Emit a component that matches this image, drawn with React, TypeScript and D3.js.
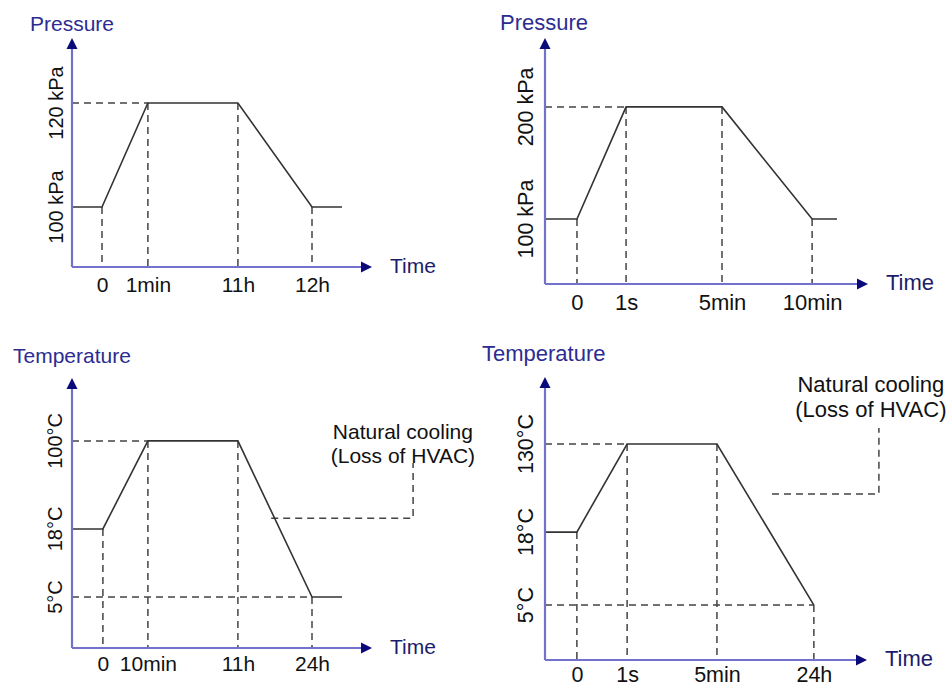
import React, { useEffect, useRef } from 'react';
import * as d3 from 'd3';

// all positions below are in "percent of axis length" (schematic chart, not to scale)

// panel A: pressure, slow cycle
const pressATicks = ['0', '1min', '11h', '12h'];
const pressATickPos = [10, 25.3, 55.3, 80];
const pressALevels = ['100 kPa', '120 kPa'];
const pressALevelPos = [26.2, 71.6];
const pressAProfile = [0, 1, 1, 0]; // level index reached at each tick
const pressAEnd = 90;

// panel B: pressure, fast cycle
const pressBTicks = ['0', '1s', '5min', '10min'];
const pressBTickPos = [9.9, 25.1, 54.8, 82.7];
const pressBLevels = ['100 kPa', '200 kPa'];
const pressBLevelPos = [26.4, 72];
const pressBProfile = [0, 1, 1, 0];
const pressBEnd = 90.4;

// panel C: temperature, slow cycle
const tempCTicks = ['0', '10min', '11h', '24h'];
const tempCTickPos = [10.3, 25.3, 55.3, 80];
const tempCLevels = ['5°C', '18°C', '100°C'];
const tempCLevelPos = [18.9, 44.1, 76.7];
const tempCProfile = [1, 2, 2, 0];
const tempCEnd = 90;
const tempCNote = ['Natural cooling', '(Loss of HVAC)'];
const tempCNotePos = [110.3, 77.4];
const tempCLeader = [[66.4, 48.1], [113.7, 48.1], [113.7, 68.5]];

// panel D: temperature, fast cycle
const tempDTicks = ['0', '1s', '5min', '24h'];
const tempDTickPos = [9.9, 25.5, 53.4, 83.5];
const tempDLevels = ['5°C', '18°C', '130°C'];
const tempDLevelPos = [19.4, 45.2, 76.3];
const tempDProfile = [1, 2, 2, 0];
const tempDEnd = null;
const tempDNote = ['Natural cooling', '(Loss of HVAC)'];
const tempDNotePos = [101.2, 94.7];
const tempDLeader = [[70.5, 58.7], [103.7, 58.7], [103.7, 82]];

const panels = [
  { title: 'Pressure', ticks: pressATicks, tickPos: pressATickPos, levels: pressALevels, levelPos: pressALevelPos, profile: pressAProfile, end: pressAEnd,
    ox: 72, oy: 267, w: 300, h: 229, tx: 30, ty: 31, fs: 20, xfs: 21, tfs: 21, lab: 9, pad: 10 },
  { title: 'Pressure', ticks: pressBTicks, tickPos: pressBTickPos, levels: pressBLevels, levelPos: pressBLevelPos, profile: pressBProfile, end: pressBEnd,
    ox: 545, oy: 284, w: 323, h: 246, tx: 500, ty: 30, fs: 21.5, xfs: 22, tfs: 22, lab: 12, pad: 10 },
  { title: 'Temperature', ticks: tempCTicks, tickPos: tempCTickPos, levels: tempCLevels, levelPos: tempCLevelPos, profile: tempCProfile, end: tempCEnd,
    note: tempCNote, notePos: tempCNotePos, leader: tempCLeader,
    ox: 72, oy: 648, w: 300, h: 270, tx: 13, ty: 363, fs: 20, xfs: 21, tfs: 21, lab: 10, pad: 8 },
  { title: 'Temperature', ticks: tempDTicks, tickPos: tempDTickPos, levels: tempDLevels, levelPos: tempDLevelPos, profile: tempDProfile, end: tempDEnd,
    note: tempDNote, notePos: tempDNotePos, leader: tempDLeader,
    ox: 545, oy: 660, w: 322, h: 283, tx: 482, ty: 361, fs: 21.5, xfs: 21.5, tfs: 22, lab: 12, pad: 7 },
];

const W = 952;
const H = 688;
const FONT = 'Liberation Sans, Arial, sans-serif';

export default function App() {
  const svgRef = useRef<SVGSVGElement>(null);

  useEffect(() => {
    const svg = d3.select(svgRef.current)
    svg.selectAll('*').remove()
    svg.append('rect').attr('width', W).attr('height', H).attr('fill', 'white')

    panels.forEach(p => {
      const g = svg.append('g').style('font-family', FONT)
      const x = d3.scaleLinear().domain([0, 100]).range([p.ox, p.ox + p.w])
      const y = d3.scaleLinear().domain([0, 100]).range([p.oy, p.oy - p.h])

      // profile points
      const pts: [number, number][] = []
      pts.push([0, p.levelPos[p.profile[0]]])
      p.tickPos.forEach((t, i) => pts.push([t, p.levelPos[p.profile[i]]]))
      if (p.end != null) pts.push([p.end, p.levelPos[p.profile[p.profile.length - 1]]])

      const dash = g.append('g')
        .attr('stroke', '#444')
        .attr('stroke-width', 1.5)
        .attr('stroke-dasharray', '7,5')
        .attr('fill', 'none')

      // horizontal guides for levels not at the start
      p.levelPos.forEach((lv, li) => {
        if (li === p.profile[0]) return
        const first = p.profile.indexOf(li)
        dash.append('line')
          .attr('x1', x(0)).attr('x2', x(p.tickPos[first]))
          .attr('y1', y(lv)).attr('y2', y(lv))
      })
      // vertical guides
      p.tickPos.forEach((t, i) => {
        dash.append('line')
          .attr('x1', x(t)).attr('x2', x(t))
          .attr('y1', y(p.levelPos[p.profile[i]])).attr('y2', y(0))
      })
      // leader to note
      if (p.leader) {
        dash.append('path')
          .attr('d', d3.line()(p.leader.map(d => [x(d[0]), y(d[1])] as [number, number])))
      }

      // the profile
      g.append('path')
        .attr('d', d3.line().x(d => x(d[0])).y(d => y(d[1]))(pts))
        .attr('fill', 'none')
        .attr('stroke', '#333')
        .attr('stroke-width', 1.6)

      // axes with arrows
      g.append('line')
        .attr('x1', x(0)).attr('x2', x(100) - 8)
        .attr('y1', y(0)).attr('y2', y(0))
        .attr('stroke', '#7272cc').attr('stroke-width', 2.2)
      g.append('line')
        .attr('x1', x(0)).attr('x2', x(0))
        .attr('y1', y(0)).attr('y2', y(100) + 8)
        .attr('stroke', '#7272cc').attr('stroke-width', 2.2)
      g.append('path')
        .attr('d', `M${x(100)},${y(0)} L${x(100) - 11},${y(0) - 5.5} L${x(100) - 11},${y(0) + 5.5} Z`)
        .attr('fill', '#0a0a7a')
      g.append('path')
        .attr('d', `M${x(0)},${y(100)} L${x(0) - 5.5},${y(100) + 11} L${x(0) + 5.5},${y(100) + 11} Z`)
        .attr('fill', '#0a0a7a')

      // time tick labels
      const xAxis = d3.axisBottom(x)
        .tickValues(p.tickPos)
        .tickFormat((d, i) => p.ticks[i])
        .tickSize(0)
        .tickPadding(p.pad)
      const ax = g.append('g')
        .attr('transform', `translate(0, ${y(0)})`)
        .call(xAxis)
      ax.select('.domain').remove()
      ax.selectAll('text')
        .attr('fill', '#111')
        .style('font-size', `${p.xfs}px`)
        .style('font-family', FONT)

      // rotated level labels
      p.levels.forEach((lab, i) => {
        g.append('text')
          .attr('transform', `translate(${x(0) - p.lab}, ${y(p.levelPos[i])}) rotate(-90)`)
          .attr('text-anchor', 'middle')
          .attr('fill', '#111')
          .style('font-size', `${p.fs}px`)
          .text(lab)
      })

      // title and "Time"
      g.append('text')
        .attr('x', p.tx).attr('y', p.ty)
        .attr('fill', '#2c2c92')
        .style('font-size', `${p.tfs}px`)
        .text(p.title)
      g.append('text')
        .attr('x', x(100) + 18).attr('y', y(0) + 6)
        .attr('fill', '#1c1c6c')
        .style('font-size', `${p.tfs}px`)
        .text('Time')

      // annotation
      if (p.note) {
        p.note.forEach((line, i) => {
          g.append('text')
            .attr('x', x(p.notePos[0]))
            .attr('y', y(p.notePos[1]) + i * (p.tfs + 3))
            .attr('text-anchor', 'middle')
            .attr('fill', '#111')
            .style('font-size', `${p.tfs}px`)
            .text(line)
        })
      }
    })
  }, [])

  return (
    <div className="Chart">
      <svg ref={svgRef} width={W} height={H} style={{ position: 'absolute', left: 0, top: 0 }}></svg>
    </div>
  )
}
